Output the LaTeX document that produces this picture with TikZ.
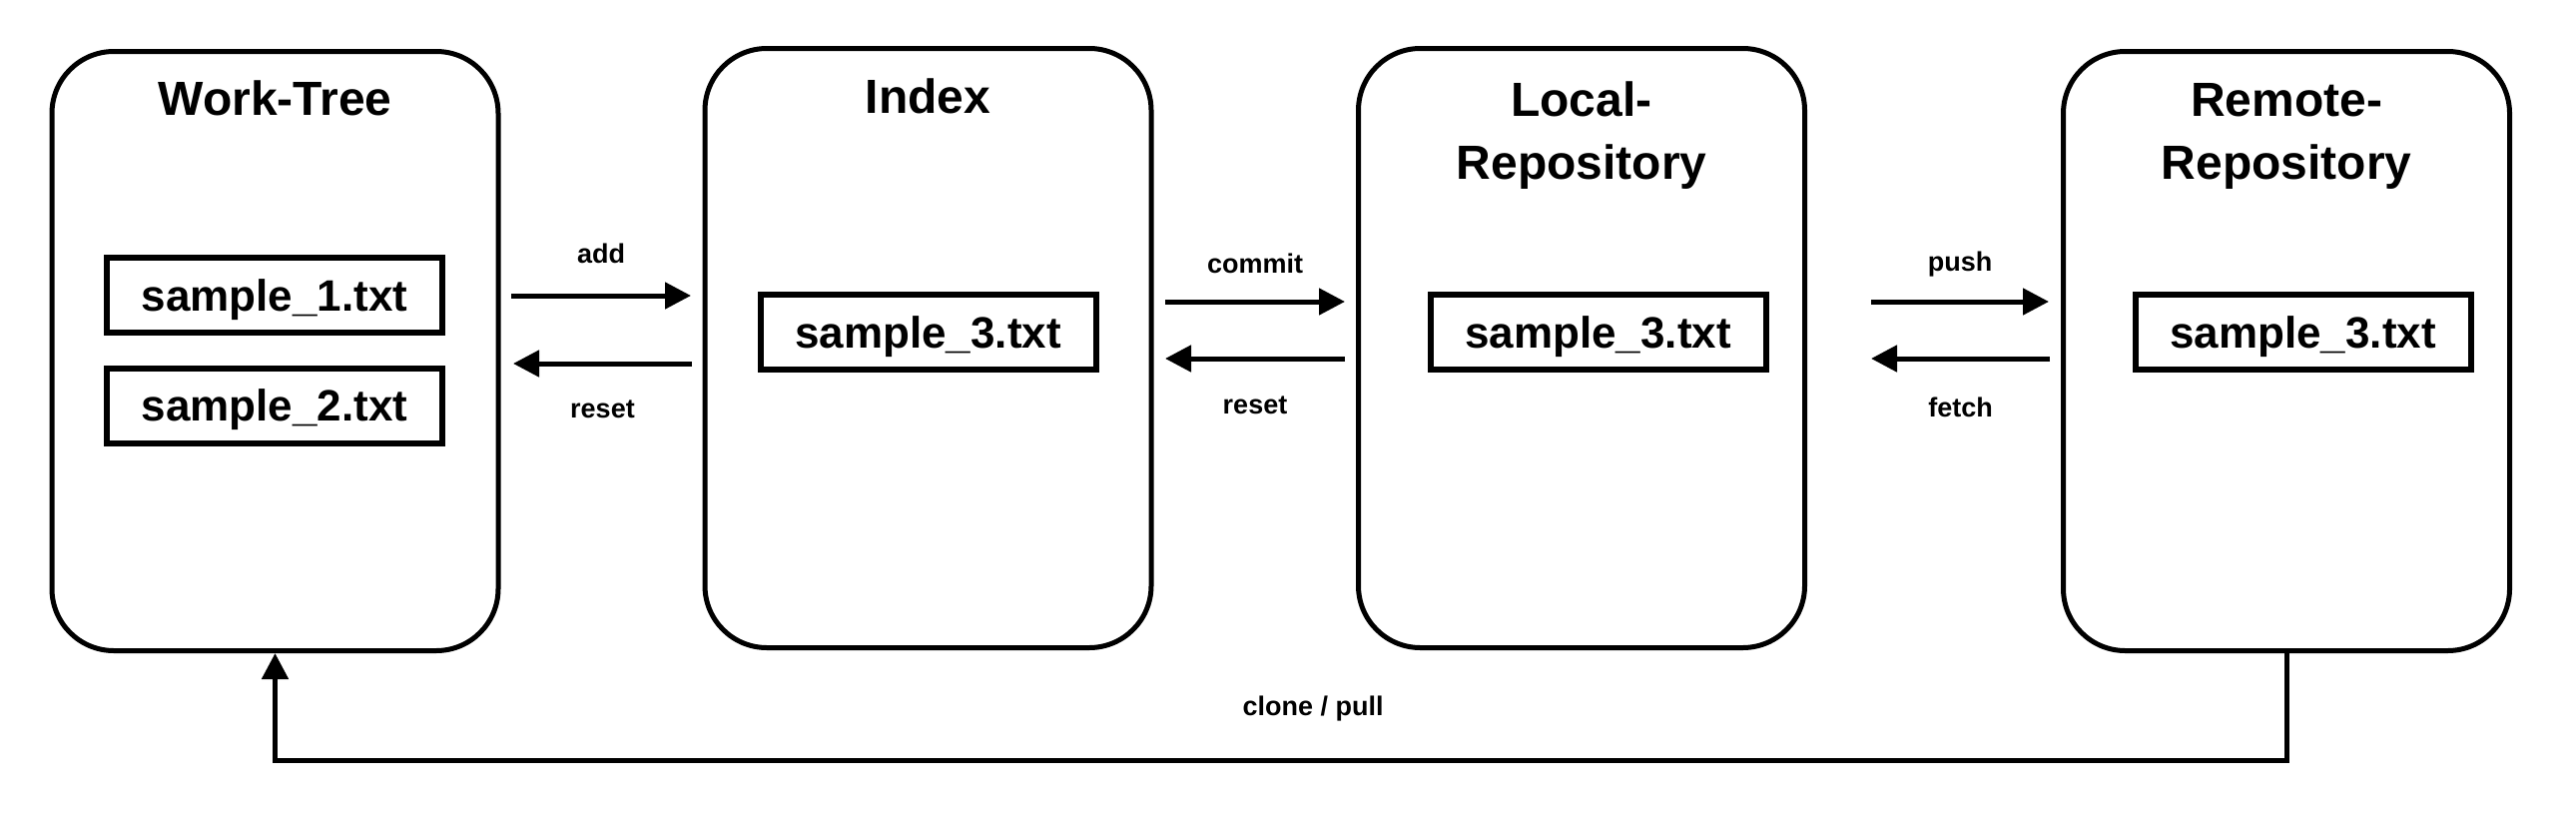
\documentclass[tikz,border=0pt]{standalone}
\usepackage{fontspec}
\setmainfont{Liberation Sans}
\usetikzlibrary{arrows.meta,positioning}

\tikzset{
  area/.style={draw, line width=5pt, rounded corners=62pt, minimum width=447pt, minimum height=600pt, inner sep=0pt},
  file/.style={draw, line width=6pt, minimum width=336pt, minimum height=75pt, inner sep=0pt, text depth=0pt, font=\fontsize{44}{50}\selectfont\bfseries},
  heading/.style={inner sep=0pt, align=center, font=\fontsize{48}{63}\selectfont\bfseries},
  cmd/.style={inner sep=0pt, font=\fontsize{27}{32}\selectfont\bfseries},
  flow/.style={line width=5pt, -{Triangle[length=26pt, width=26pt]}},
}

\begin{document}
\begin{tikzpicture}[x=1pt, y=-1pt, line join=miter]
  \useasboundingbox (0,0) rectangle (2580,822);

  % the four areas
  \node[area] (wt)  at (275.5,351.5) {};
  \node[area] (idx) at (929.5,348.5) {};
  \node[area] (loc) at (1584,348.5) {};
  \node[area] (rem) at (2290,351.5) {};

  \node[heading, below=32pt of wt.north]  (wtT)  {Work-Tree};
  \node[heading, below=33pt of idx.north] (idxT) {Index};
  \node[heading, below=36pt of loc.north] (locT) {Local-\\Repository};
  \node[heading, below=34pt of rem.north] (remT) {Remote-\\Repository};

  % files
  \node[file] (f1)  at (275,295.5)   {sample\_1.txt};
  \node[file] (f2)  at (275,406)     {sample\_2.txt};
  \node[file] (f3i) at (929.5,332.5) {sample\_3.txt};
  \node[file] (f3l) at (1600.5,332.5) {sample\_3.txt};
  \node[file] (f3r) at (2306.5,332.5) {sample\_3.txt};

  % arrow ends
  \path
  (512,296) coordinate (add1) ++(180,0) coordinate (add2)
  (693,364) coordinate (rst1) ++(-179,0) coordinate (rst2)
  (1167,302) coordinate (com1) ++(180,0) coordinate (com2)
  (1347,359) coordinate (rsb1) ++(-180,0) coordinate (rsb2)
  (1874,302) coordinate (psh1) ++(178,0) coordinate (psh2)
  (2053,359) coordinate (fet1) ++(-179,0) coordinate (fet2)
  ;

  \draw[flow] (add1) -- node[cmd, above=30pt] (addL) {add} (add2);
  \draw[flow] (rst1) -- node[cmd, below=34pt] (rstL) {reset} (rst2);
  \draw[flow] (com1) -- node[cmd, above=26pt] (comL) {commit} (com2);
  \draw[flow] (rsb1) -- node[cmd, below=35pt] (rsbL) {reset} (rsb2);
  \draw[flow] (psh1) -- node[cmd, above=22pt] (pshL) {push} (psh2);
  \draw[flow] (fet1) -- node[cmd, below=36pt] (fetL) {fetch} (fet2);

  \draw[flow] (rem.south) -- ++(0,107) -| (wt.south);
  \node[cmd] (clnL) at (1315,710) {clone / pull};
\end{tikzpicture}
\end{document}
